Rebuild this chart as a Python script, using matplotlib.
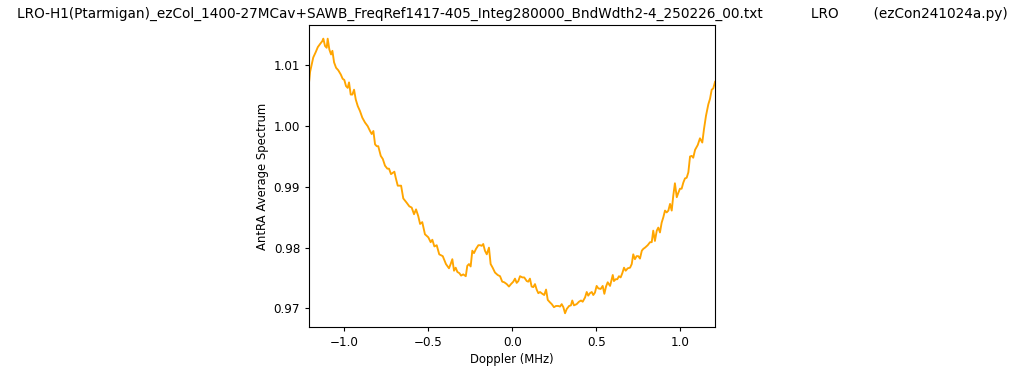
import numpy as np
import matplotlib
matplotlib.use('Agg')
import matplotlib.pyplot as plt

# Doppler (MHz) and averaged spectrum
doppler = [
    -1.210, -1.204, -1.194, -1.185, -1.170, -1.158, -1.145, -1.131, -1.125, -1.115,
    -1.105, -1.099, -1.089, -1.079, -1.071, -1.061, -1.049, -1.036, -1.021, -1.010,
    -1.000, -0.990, -0.980, -0.972, -0.962, -0.952, -0.942, -0.932, -0.920, -0.907,
    -0.893, -0.877, -0.861, -0.847, -0.837, -0.827, -0.817, -0.807, -0.798, -0.783,
    -0.771, -0.758, -0.744, -0.734, -0.722, -0.712, -0.702, -0.694, -0.682, -0.662,
    -0.649, -0.629, -0.613, -0.599, -0.585, -0.573, -0.560, -0.549, -0.536, -0.520,
    -0.500, -0.486, -0.476, -0.464, -0.450, -0.435, -0.414, -0.395, -0.377, -0.367,
    -0.357, -0.347, -0.337, -0.327, -0.315, -0.305, -0.292, -0.277, -0.268, -0.258,
    -0.248, -0.238, -0.228, -0.216, -0.202, -0.192, -0.182, -0.173, -0.163, -0.152,
    -0.139, -0.129, -0.117, -0.103, -0.087, -0.073, -0.060, -0.048, -0.033, -0.020,
    -0.008, 0.006, 0.016, 0.026, 0.036, 0.046, 0.060, 0.071, 0.086, 0.095,
    0.105, 0.115, 0.125, 0.135, 0.145, 0.155, 0.165, 0.179, 0.190, 0.201,
    0.211, 0.224, 0.235, 0.248, 0.260, 0.274, 0.284, 0.294, 0.304, 0.314,
    0.324, 0.338, 0.349, 0.357, 0.367, 0.383, 0.397, 0.409, 0.419, 0.433,
    0.443, 0.452, 0.462, 0.473, 0.482, 0.492, 0.502, 0.512, 0.526, 0.538,
    0.548, 0.558, 0.568, 0.582, 0.592, 0.598, 0.605, 0.615, 0.625, 0.635,
    0.645, 0.655, 0.665, 0.675, 0.687, 0.701, 0.711, 0.720, 0.730, 0.740,
    0.750, 0.760, 0.771, 0.780, 0.790, 0.806, 0.820, 0.830, 0.839, 0.849,
    0.860, 0.869, 0.879, 0.889, 0.899, 0.909, 0.919, 0.929, 0.939, 0.949,
    0.958, 0.968, 0.979, 0.988, 0.998, 1.008, 1.018, 1.028, 1.038, 1.048,
    1.058, 1.068, 1.077, 1.088, 1.104, 1.117, 1.123, 1.131, 1.141, 1.153,
    1.167, 1.177, 1.187, 1.196, 1.207,
]
spectrum = [
    1.0072, 1.0089, 1.0102, 1.0113, 1.0122, 1.0130, 1.0135, 1.0140, 1.0144, 1.0132,
    1.0129, 1.0144, 1.0126, 1.0118, 1.0124, 1.0105, 1.0096, 1.0092, 1.0085, 1.0078,
    1.0076, 1.0066, 1.0063, 1.0072, 1.0052, 1.0052, 1.0060, 1.0044, 1.0033, 1.0025,
    1.0014, 1.0006, 1.0000, 0.9992, 0.9987, 0.9992, 0.9970, 0.9967, 0.9967, 0.9951,
    0.9946, 0.9935, 0.9930, 0.9930, 0.9921, 0.9923, 0.9925, 0.9915, 0.9902, 0.9902,
    0.9881, 0.9874, 0.9868, 0.9866, 0.9855, 0.9863, 0.9852, 0.9839, 0.9842, 0.9822,
    0.9817, 0.9809, 0.9813, 0.9802, 0.9804, 0.9789, 0.9786, 0.9773, 0.9766, 0.9773,
    0.9781, 0.9762, 0.9767, 0.9760, 0.9758, 0.9754, 0.9756, 0.9753, 0.9770, 0.9773,
    0.9769, 0.9795, 0.9791, 0.9798, 0.9804, 0.9804, 0.9803, 0.9806, 0.9795, 0.9789,
    0.9800, 0.9773, 0.9767, 0.9759, 0.9755, 0.9753, 0.9744, 0.9743, 0.9740, 0.9736,
    0.9740, 0.9744, 0.9749, 0.9742, 0.9745, 0.9753, 0.9751, 0.9751, 0.9745, 0.9744,
    0.9749, 0.9736, 0.9735, 0.9740, 0.9731, 0.9725, 0.9727, 0.9724, 0.9722, 0.9731,
    0.9714, 0.9710, 0.9707, 0.9702, 0.9704, 0.9704, 0.9703, 0.9707, 0.9702, 0.9692,
    0.9699, 0.9704, 0.9705, 0.9713, 0.9705, 0.9707, 0.9711, 0.9713, 0.9711, 0.9718,
    0.9727, 0.9721, 0.9725, 0.9727, 0.9722, 0.9726, 0.9737, 0.9733, 0.9732, 0.9737,
    0.9724, 0.9736, 0.9743, 0.9737, 0.9748, 0.9755, 0.9745, 0.9748, 0.9748, 0.9753,
    0.9751, 0.9758, 0.9767, 0.9762, 0.9766, 0.9767, 0.9773, 0.9789, 0.9781, 0.9786,
    0.9786, 0.9782, 0.9795, 0.9798, 0.9800, 0.9804, 0.9809, 0.9809, 0.9828, 0.9811,
    0.9828, 0.9833, 0.9825, 0.9841, 0.9850, 0.9861, 0.9858, 0.9861, 0.9872, 0.9861,
    0.9885, 0.9906, 0.9883, 0.9890, 0.9897, 0.9897, 0.9907, 0.9914, 0.9915, 0.9924,
    0.9950, 0.9951, 0.9948, 0.9961, 0.9969, 0.9980, 0.9977, 0.9973, 0.9995, 1.0017,
    1.0036, 1.0045, 1.0060, 1.0062, 1.0073,
]

data_file = 'LRO-H1(Ptarmigan)_ezCol_1400-27MCav+SAWB_FreqRef1417-405_Integ280000_BndWdth2-4_250226_00.txt'
station = 'LRO'
program = '(ezCon241024a.py)'

plt.rcParams['xtick.labelsize'] = 8.6
plt.rcParams['ytick.labelsize'] = 8.6
plt.rcParams['xtick.major.size'] = 3.0
plt.rcParams['ytick.major.size'] = 3.0

fig = plt.figure(figsize=(10.24, 3.72), dpi=100)
ax = fig.add_axes([0.3018, 0.121, 0.3965, 0.812])

ax.plot(doppler, spectrum, color='orange', lw=1.35)

ax.set_xlim(doppler[0], doppler[-1])
ax.set_title(data_file + '           ' + station + '        ' + program, fontsize=9.8, pad=5)
ax.set_xlabel('Doppler (MHz)', fontsize=8.4, labelpad=3)
ax.set_ylabel('AntRA Average Spectrum', fontsize=8.4, labelpad=3)

fig.savefig('out.png', dpi=100)
